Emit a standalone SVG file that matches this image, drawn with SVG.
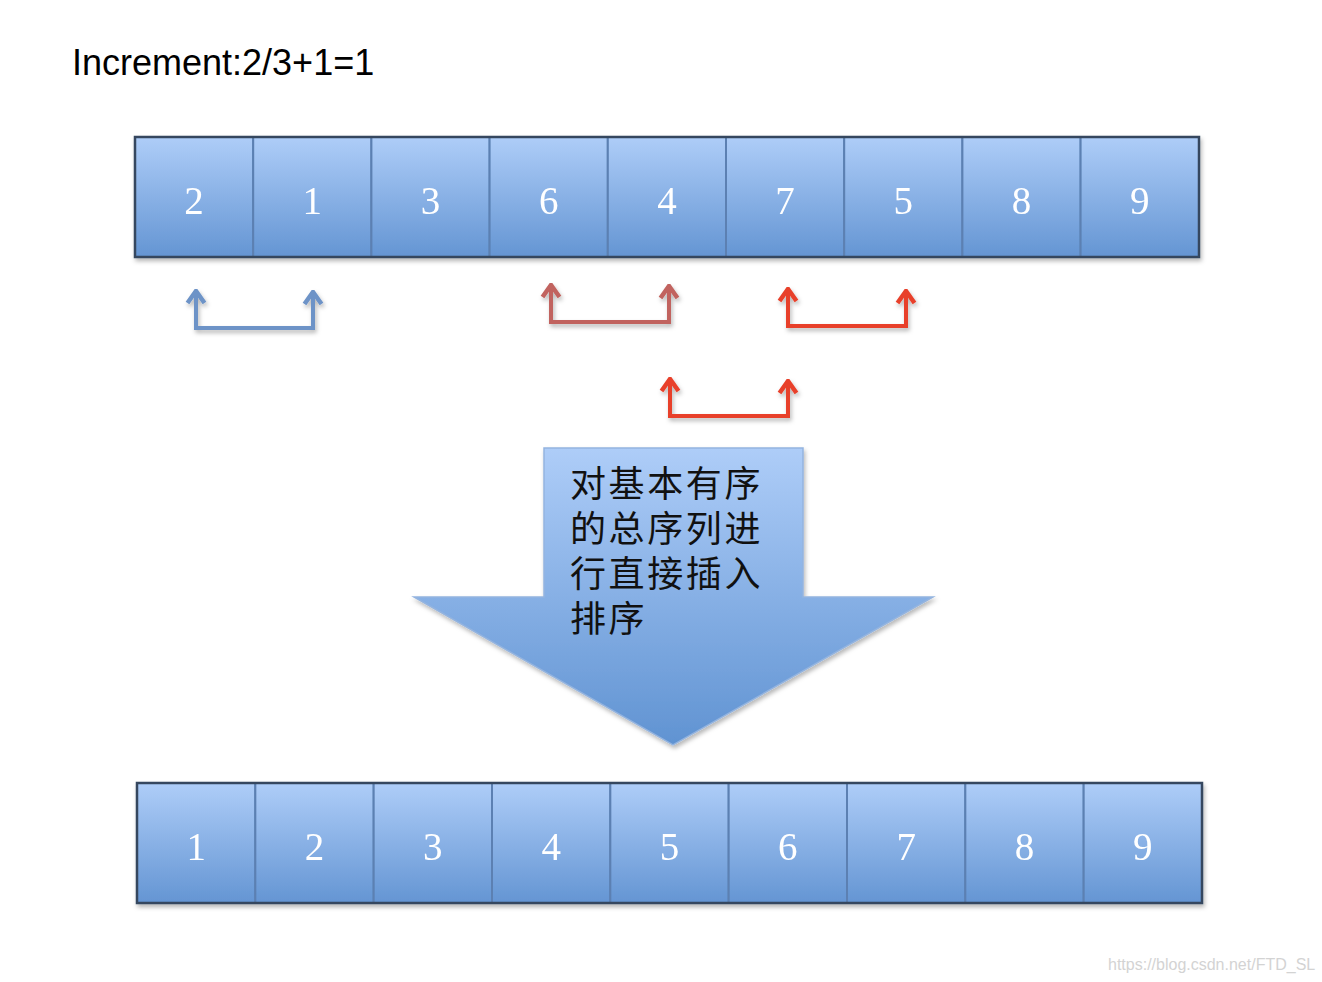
<svg xmlns="http://www.w3.org/2000/svg" width="1322" height="982" viewBox="0 0 1322 982">
  <style>
    .cell { fill: url(#cellGrad); stroke: #5b80b2; stroke-width: 2; }
    .frame { fill: none; stroke: #34475f; stroke-width: 2.5; }
    .num { font-family: "Liberation Serif", "Times New Roman", serif; font-size: 39px; fill: #ffffff; text-anchor: middle; }
    .title { font-family: "Liberation Sans", Arial, sans-serif; font-size: 36px; fill: #000000; }
    .cjk { font-family: "Noto Sans CJK SC", sans-serif; font-size: 36px; letter-spacing: 2.6px; fill: #111111; }
    .wm { font-family: "Liberation Sans", Arial, sans-serif; font-size: 16px; fill: #d3d3d3; }
    .conn { fill: none; stroke-width: 4; stroke-linejoin: miter; }
    .blue { stroke: #6d93c7; }
    .brown { stroke: #c1635e; }
    .red { stroke: #e8412b; }
  </style>
  <defs>
    <linearGradient id="cellGrad" x1="0" y1="0" x2="0" y2="1">
      <stop offset="0" stop-color="#aecdf8"/>
      <stop offset="1" stop-color="#6495d3"/>
    </linearGradient>
    <linearGradient id="arrowGrad" x1="0" y1="0" x2="0" y2="1">
      <stop offset="0" stop-color="#aecdf8"/>
      <stop offset="1" stop-color="#6093d2"/>
    </linearGradient>
    <filter id="shadow" x="-10%" y="-10%" width="120%" height="130%">
      <feDropShadow dx="1.5" dy="3" stdDeviation="2" flood-color="#000" flood-opacity="0.28"/>
    </filter>
    <marker id="headBlue" markerUnits="userSpaceOnUse" viewBox="-14 -11 16 22" refX="0" refY="0" markerWidth="16" markerHeight="22" orient="auto-start-reverse">
      <path d="M-12,-8.5 L0,0 L-12,8.5" fill="none" stroke="#6d93c7" stroke-width="4.5"/>
    </marker>
    <marker id="headBrown" markerUnits="userSpaceOnUse" viewBox="-14 -11 16 22" refX="0" refY="0" markerWidth="16" markerHeight="22" orient="auto-start-reverse">
      <path d="M-12,-8.5 L0,0 L-12,8.5" fill="none" stroke="#c1635e" stroke-width="4.5"/>
    </marker>
    <marker id="headRed" markerUnits="userSpaceOnUse" viewBox="-14 -11 16 22" refX="0" refY="0" markerWidth="16" markerHeight="22" orient="auto-start-reverse">
      <path d="M-12,-8.5 L0,0 L-12,8.5" fill="none" stroke="#e8412b" stroke-width="4.5"/>
    </marker>
  </defs>

  <rect width="1322" height="982" fill="#ffffff"/>

  <text class="title" x="72" y="75">Increment:2/3+1=1</text>

  <!-- Top array -->
  <g id="top-array" filter="url(#shadow)">
    <g id="t1"><rect class="cell" x="135" y="137" width="118.2" height="120"/><text class="num" x="194.1" y="214">2</text></g>
    <g id="t2"><rect class="cell" x="253.2" y="137" width="118.2" height="120"/><text class="num" x="312.3" y="214">1</text></g>
    <g id="t3"><rect class="cell" x="371.4" y="137" width="118.2" height="120"/><text class="num" x="430.5" y="214">3</text></g>
    <g id="t4"><rect class="cell" x="489.6" y="137" width="118.2" height="120"/><text class="num" x="548.7" y="214">6</text></g>
    <g id="t5"><rect class="cell" x="607.8" y="137" width="118.2" height="120"/><text class="num" x="666.9" y="214">4</text></g>
    <g id="t6"><rect class="cell" x="726" y="137" width="118.2" height="120"/><text class="num" x="785.1" y="214">7</text></g>
    <g id="t7"><rect class="cell" x="844.2" y="137" width="118.2" height="120"/><text class="num" x="903.3" y="214">5</text></g>
    <g id="t8"><rect class="cell" x="962.4" y="137" width="118.2" height="120"/><text class="num" x="1021.5" y="214">8</text></g>
    <g id="t9"><rect class="cell" x="1080.6" y="137" width="118.4" height="120"/><text class="num" x="1139.7" y="214">9</text></g>
    <rect class="frame" x="135" y="137" width="1064" height="120"/>
  </g>

  <!-- Connectors -->
  <g id="connectors" filter="url(#shadow)">
    <path class="conn blue" d="M196,291 V328 H313 V292" marker-start="url(#headBlue)" marker-end="url(#headBlue)"/>
    <path class="conn brown" d="M551,285 V322 H669 V286" marker-start="url(#headBrown)" marker-end="url(#headBrown)"/>
    <path class="conn red" d="M788,289 V326 H906 V291" marker-start="url(#headRed)" marker-end="url(#headRed)"/>
    <path class="conn red" d="M670,379 V416 H788 V381" marker-start="url(#headRed)" marker-end="url(#headRed)"/>
  </g>

  <!-- Big down arrow -->
  <g id="big-arrow">
    <polygon points="544,448 803,448 803,597 933,597 673,745 414,597 544,597" fill="url(#arrowGrad)" stroke="#94b4df" stroke-width="1.5" filter="url(#shadow)"/>
    <text class="cjk" x="570" y="497">对基本有序</text>
    <text class="cjk" x="570" y="542">的总序列进</text>
    <text class="cjk" x="570" y="587">行直接插入</text>
    <text class="cjk" x="570" y="632">排序</text>
  </g>

  <!-- Bottom array -->
  <g id="bottom-array" filter="url(#shadow)">
    <g id="b1"><rect class="cell" x="137" y="783" width="118.33" height="120"/><text class="num" x="196.2" y="860">1</text></g>
    <g id="b2"><rect class="cell" x="255.33" y="783" width="118.33" height="120"/><text class="num" x="314.5" y="860">2</text></g>
    <g id="b3"><rect class="cell" x="373.67" y="783" width="118.33" height="120"/><text class="num" x="432.8" y="860">3</text></g>
    <g id="b4"><rect class="cell" x="492" y="783" width="118.33" height="120"/><text class="num" x="551.2" y="860">4</text></g>
    <g id="b5"><rect class="cell" x="610.33" y="783" width="118.33" height="120"/><text class="num" x="669.5" y="860">5</text></g>
    <g id="b6"><rect class="cell" x="728.67" y="783" width="118.33" height="120"/><text class="num" x="787.8" y="860">6</text></g>
    <g id="b7"><rect class="cell" x="847" y="783" width="118.33" height="120"/><text class="num" x="906.2" y="860">7</text></g>
    <g id="b8"><rect class="cell" x="965.33" y="783" width="118.33" height="120"/><text class="num" x="1024.5" y="860">8</text></g>
    <g id="b9"><rect class="cell" x="1083.67" y="783" width="118.33" height="120"/><text class="num" x="1142.8" y="860">9</text></g>
    <rect class="frame" x="137" y="783" width="1065" height="120"/>
  </g>

  <text class="wm" x="1108" y="970">https://blog.csdn.net/FTD_SL</text>
</svg>
